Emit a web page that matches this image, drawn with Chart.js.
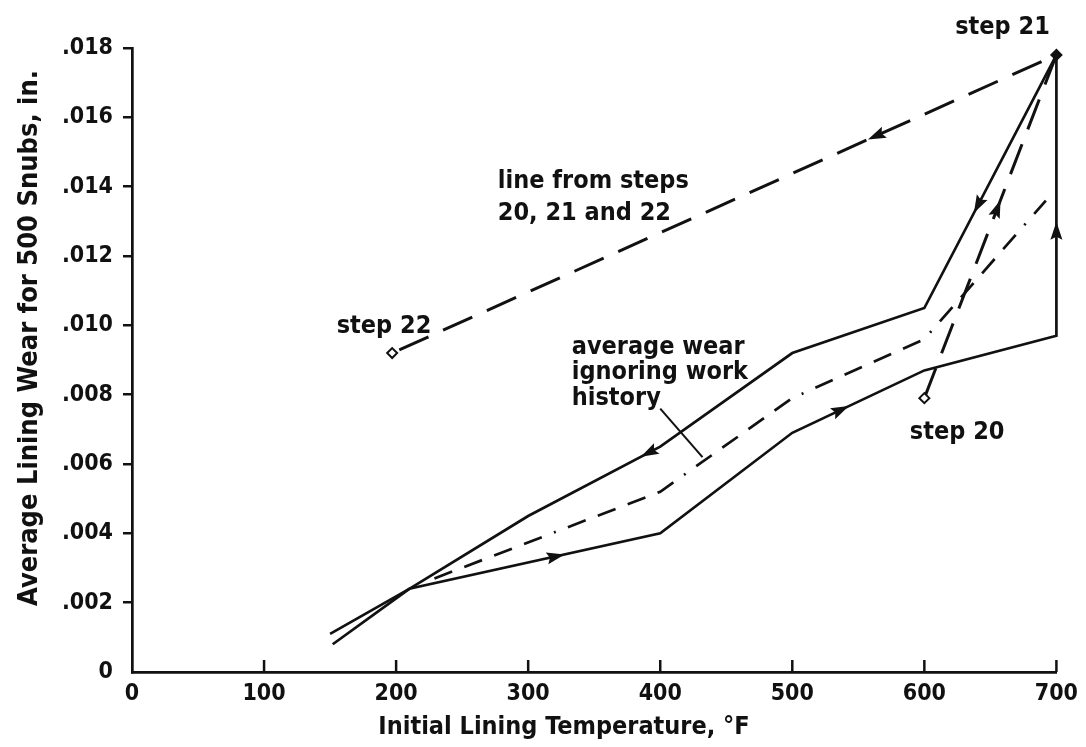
<!DOCTYPE html>
<html>
<head>
<meta charset="utf-8">
<script src="https://cdn.jsdelivr.net/npm/chart.js@4.4.0/dist/chart.umd.min.js"></script>
<style>
  body { margin: 0; background: #fff; }
  #chart { display: block; }
</style>
</head>
<body>
<canvas id="chart" width="1086" height="747"></canvas>
<script>
// heating path (arrows to the right, then up to step 21)
const heatTemp = [152, 210, 400, 500, 600, 700, 700];
const heatWear = [0.0008, 0.0024, 0.0040, 0.0069, 0.0087, 0.0097, 0.0178];
// cooling path (arrows to the left)
const coolTemp = [700, 600, 500, 400, 300, 210, 150];
const coolWear = [0.0178, 0.0105, 0.0092, 0.0065, 0.0045, 0.0024, 0.0011];
// average wear ignoring work history
const avgTemp = [229, 400, 500, 600, 692];
const avgWear = [0.0027, 0.0052, 0.0079, 0.0096, 0.0136];
// steps 20 -> 21 -> 22
const stepTemp = [600, 700, 197];
const stepWear = [0.0079, 0.0178, 0.0092];
// pointer from the "history" note
const leaderTemp = [400, 432];
const leaderWear = [0.0076, 0.0062];

const xTicks = [0, 100, 200, 300, 400, 500, 600, 700];
const yTickLabels = ['0', '.002', '.004', '.006', '.008', '.010', '.012', '.014', '.016', '.018'];
const xTitle = 'Initial Lining Temperature, °F';
const yTitle = 'Average Lining Wear for 500 Snubs, in.';

const FONT = '"DejaVu Sans Condensed", "DejaVu Sans", sans-serif';
const INK = '#111';

function pts(xs, ys) {
    return xs.map((x, i) => ({x: x, y: ys[i]}));
}

// [dataset, segment, fraction along segment]
const arrows = [
    [0, 1, 0.58], [0, 3, 0.36], [0, 5, 0.37],
    [1, 0, 0.59], [1, 3, 0.08],
    [3, 0, 0.55], [3, 1, 0.27]
];

const notes = [
    {text: 'step 21', x: 695, y: 0.0186, align: 'right'},
    {text: 'line from steps', x: 277, y: 0.01414, align: 'left'},
    {text: '20, 21 and 22', x: 277, y: 0.01324, align: 'left'},
    {text: 'step 22', x: 155, y: 0.00998, align: 'left'},
    {text: 'average wear', x: 333, y: 0.00935, align: 'left'},
    {text: 'ignoring work', x: 333, y: 0.00863, align: 'left'},
    {text: 'history', x: 333, y: 0.0079, align: 'left'},
    {text: 'step 20', x: 589, y: 0.0069, align: 'left'}
];

const extras = {
    id: 'extras',
    beforeDraw(chart) {
        const ctx = chart.ctx;
        ctx.save();
        ctx.fillStyle = '#fff';
        ctx.fillRect(0, 0, chart.width, chart.height);
        ctx.restore();
    },
    afterDraw(chart) {
        const ctx = chart.ctx;
        const xs = chart.scales.x, ys = chart.scales.y;
        ctx.save();
        // inward ticks on the temperature axis
        ctx.strokeStyle = INK;
        ctx.lineWidth = 2.5;
        for (const t of xTicks.slice(1)) {
            const px = xs.getPixelForValue(t);
            ctx.beginPath();
            ctx.moveTo(px, ys.bottom);
            ctx.lineTo(px, ys.bottom - 12);
            ctx.stroke();
        }
        // arrow heads
        ctx.fillStyle = INK;
        for (const a of arrows) {
            const el = chart.getDatasetMeta(a[0]).data;
            const p0 = el[a[1]], p1 = el[a[1] + 1];
            const px = p0.x + (p1.x - p0.x) * a[2];
            const py = p0.y + (p1.y - p0.y) * a[2];
            const ang = Math.atan2(p1.y - p0.y, p1.x - p0.x);
            ctx.save();
            ctx.translate(px, py);
            ctx.rotate(ang);
            ctx.beginPath();
            ctx.moveTo(10, 0);
            ctx.lineTo(-8, -6);
            ctx.lineTo(-5, 0);
            ctx.lineTo(-8, 6);
            ctx.closePath();
            ctx.fill();
            ctx.restore();
        }
        // notes
        ctx.font = 'bold 25px ' + FONT;
        ctx.textBaseline = 'middle';
        for (const n of notes) {
            ctx.textAlign = n.align;
            ctx.fillText(n.text, xs.getPixelForValue(n.x), ys.getPixelForValue(n.y));
        }
        // axis titles
        ctx.textAlign = 'center';
        ctx.fillText(xTitle, chart.chartArea.left + 432, chart.height - 20);
        ctx.font = 'bold 27px ' + FONT;
        ctx.translate(30, chart.chartArea.top + 290);
        ctx.rotate(-Math.PI / 2);
        ctx.fillText(yTitle, 0, 0);
        ctx.restore();
    }
};

const lineStyle = {
    borderColor: INK,
    borderWidth: 2.7,
    pointRadius: 0,
    tension: 0,
    fill: false,
    clip: false
};

new Chart(document.getElementById('chart'), {
    type: 'line',
    data: {
        datasets: [
            Object.assign({label: 'heating', data: pts(heatTemp, heatWear)}, lineStyle),
            Object.assign({label: 'cooling', data: pts(coolTemp, coolWear)}, lineStyle),
            Object.assign({label: 'average', data: pts(avgTemp, avgWear)}, lineStyle,
                {borderDash: [19, 13, 19, 13, 19, 13, 19, 13, 2, 13]}),
            Object.assign({label: 'steps', data: pts(stepTemp, stepWear)}, lineStyle, {
                borderWidth: 3,
                borderDash: [32, 16],
                pointStyle: 'rectRot',
                pointRadius: [5, 5, 5],
                pointBorderWidth: 2,
                pointBorderColor: INK,
                pointBackgroundColor: ['#fff', INK, '#fff']
            }),
            Object.assign({label: 'leader', data: pts(leaderTemp, leaderWear)}, lineStyle, {borderWidth: 2})
        ]
    },
    options: {
        responsive: false,
        animation: false,
        layout: {padding: {top: 48, right: 29, left: 0, bottom: 0}},
        plugins: {legend: {display: false}, tooltip: {enabled: false}},
        scales: {
            x: {
                type: 'linear',
                min: 0,
                max: 700,
                afterFit: (s) => { s.height = 75; },
                afterBuildTicks: (s) => { s.ticks = xTicks.map(v => ({value: v})); },
                ticks: {color: INK, font: {family: FONT, size: 23, weight: 'bold'}, padding: 8},
                grid: {display: true, drawOnChartArea: false, drawTicks: false},
                border: {display: true, color: INK, width: 2.7},
                title: {display: false}
            },
            y: {
                min: 0,
                max: 0.018,
                afterFit: (s) => { s.width = 132; },
                ticks: {
                    stepSize: 0.002,
                    color: INK,
                    font: {family: FONT, size: 23, weight: 'bold'},
                    padding: 10,
                    callback: (v, i) => yTickLabels[i]
                },
                grid: {
                    drawOnChartArea: false,
                    drawTicks: true,
                    tickLength: 9,
                    lineWidth: 2.5,
                    color: (c) => c.tick && c.tick.value === 0 ? 'rgba(0,0,0,0)' : INK
                },
                border: {display: true, color: INK, width: 2.7},
                title: {display: false}
            }
        }
    },
    plugins: [extras]
});
</script>
</body>
</html>
